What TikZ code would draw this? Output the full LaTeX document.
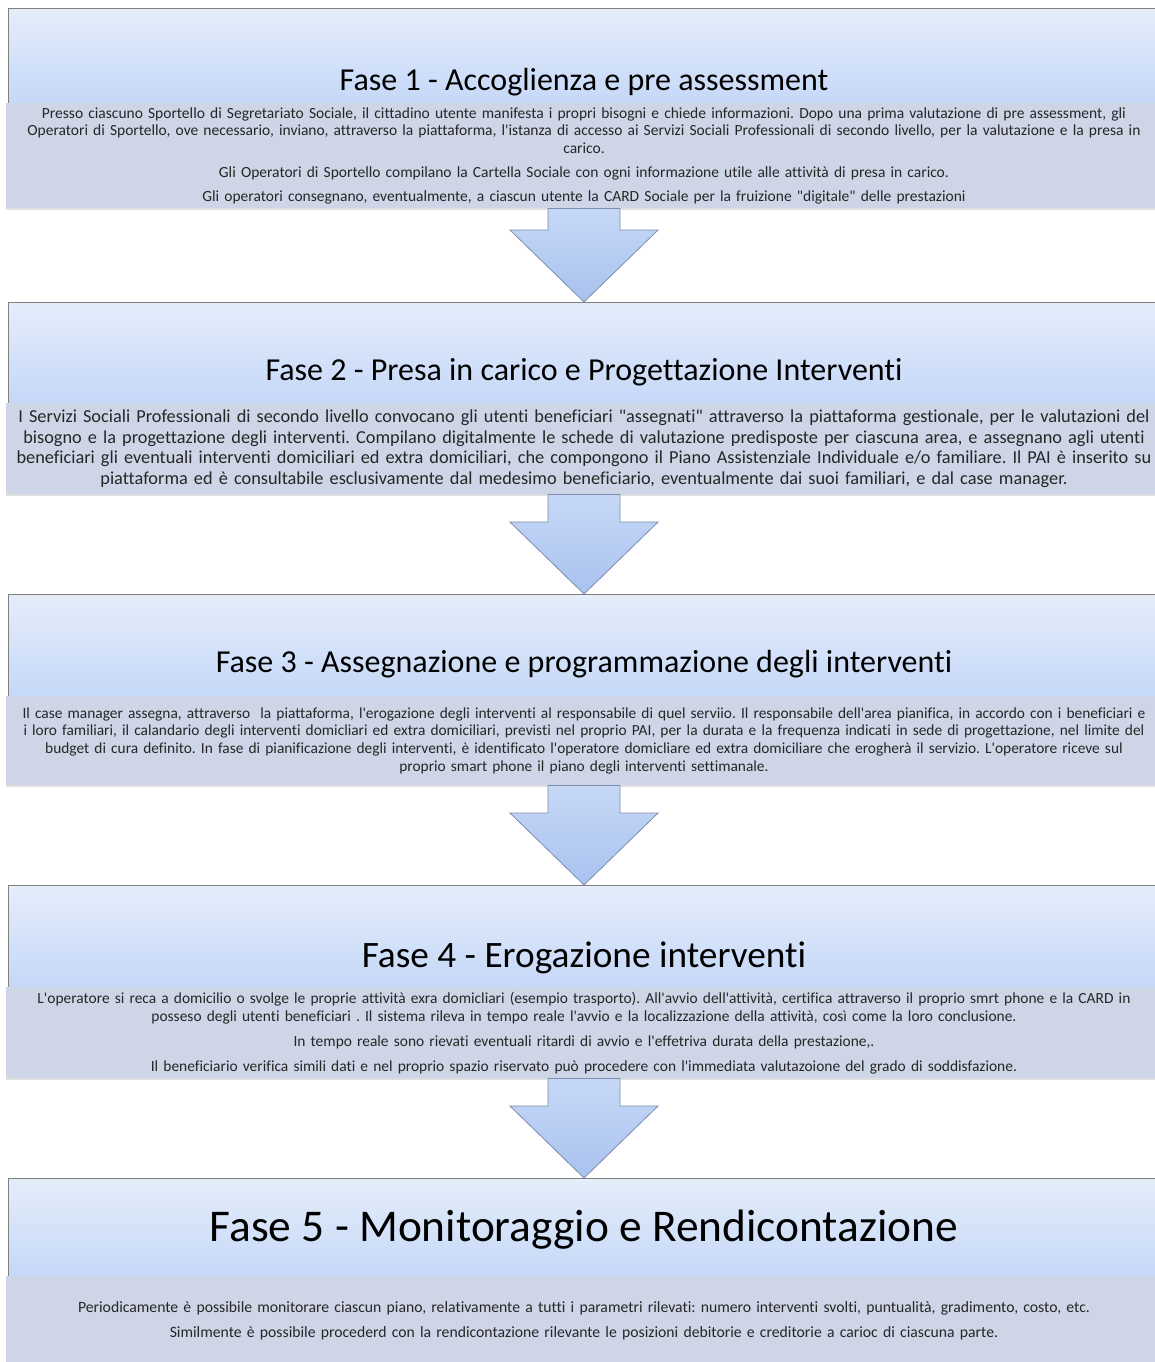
\documentclass[tikz,border=0pt]{standalone}
\usepackage{fontspec}
\setmainfont{Carlito}[Ligatures={TeXOff,NoCommon}]
\usetikzlibrary{calc,shadows}
\definecolor{fasetop}{HTML}{E5EDFA}
\definecolor{fasebot}{HTML}{C5D8F8}
\definecolor{testo}{HTML}{CDD5E6}
\definecolor{bordo}{HTML}{808080}
\definecolor{frecciatop}{HTML}{C6D8F6}
\definecolor{frecciabot}{HTML}{A9C2EF}
\definecolor{frecciabordo}{HTML}{7D8DB0}
\frenchspacing

\begin{document}
\begin{tikzpicture}[x=1pt,y=-1pt,
		fase/.style={draw=bordo, line width=0.9pt, top color=fasetop, bottom color=fasebot, minimum width=1152pt, inner sep=0pt, anchor=north, font=\fontsize{32}{38}\selectfont},
		corpo/.style={fill=testo, minimum width=1156pt, text width=1150pt, align=center, inner sep=0pt, anchor=north, text=black!85, drop shadow={opacity=0.25, shadow xshift=0pt, shadow yshift=-2pt}},
		freccia/.style={draw=frecciabordo, line width=0.8pt, top color=frecciatop, bottom color=frecciabot}]
		\fill[white] (0,0) rectangle (1154,1362);
		\useasboundingbox (0,0) rectangle (1154,1362);

		\draw
		node[fase, text height=82pt, text depth=13pt] at (584,8) (fase1) {Fase 1 - Accoglienza e pre assessment}
		node[corpo, minimum height=105pt, font=\fontsize{15.5}{17.5}\selectfont] at (584,103) (corpo1) {Presso ciascuno Sportello di Segretariato Sociale, il cittadino utente manifesta i propri bisogni e chiede informazioni. Dopo una prima valutazione di pre assessment, gli\\
			Operatori di Sportello, ove necessario, inviano, attraverso la piattaforma, l'istanza di accesso ai Servizi Sociali Professionali di secondo livello, per la valutazione e la presa in\\
			carico.\\[6.5pt]
			Gli Operatori di Sportello compilano la Cartella Sociale con ogni informazione utile alle attività di presa in carico.\\[6.5pt]
			Gli operatori consegnano, eventualmente, a ciascun utente la CARD Sociale per la fruizione "digitale" delle prestazioni}

		node[fase, text height=78pt, text depth=23pt] at (584,302) (fase2) {Fase 2 - Presa in carico e Progettazione Interventi}
		node[corpo, minimum height=91pt, font=\fontsize{18.3}{20.7}\selectfont] at (584,403) (corpo2) {I Servizi Sociali Professionali di secondo livello convocano gli utenti beneficiari "assegnati" attraverso la piattaforma gestionale, per le valutazioni del\\
			bisogno e la progettazione degli interventi. Compilano digitalmente le schede di valutazione predisposte per ciascuna area, e assegnano agli utenti\\
			beneficiari gli eventuali interventi domiciliari ed extra domiciliari, che compongono il Piano Assistenziale Individuale e/o familiare. Il PAI è inserito su\\
			piattaforma ed è consultabile esclusivamente dal medesimo beneficiario, eventualmente dai suoi familiari, e dal case manager.}

		node[fase, text height=78pt, text depth=24pt] at (584,594) (fase3) {Fase 3 - Assegnazione e programmazione degli interventi}
		node[corpo, minimum height=89pt, font=\fontsize{15.4}{17.7}\selectfont] at (584,696) (corpo3) {Il case manager assegna, attraverso\ \ la piattaforma, l'erogazione degli interventi al responsabile di quel serviio. Il responsabile dell'area pianifica, in accordo con i beneficiari e\\
			i loro familiari, il calandario degli interventi domicliari ed extra domiciliari, previsti nel proprio PAI, per la durata e la frequenza indicati in sede di progettazione, nel limite del\\
			budget di cura definito. In fase di pianificazione degli interventi, è identificato l'operatore domicliare ed extra domiciliare che erogherà il servizio. L'operatore riceve sul\\
			proprio smart phone il piano degli interventi settimanale.}

		node[fase, text height=82pt, text depth=20pt, font=\fontsize{37.3}{44}\selectfont] at (584,885) (fase4) {Fase 4 - Erogazione interventi}
		node[corpo, minimum height=91pt, font=\fontsize{15.45}{18}\selectfont] at (584,987) (corpo4) {L'operatore si reca a domicilio o svolge le proprie attività exra domicliari (esempio trasporto). All'avvio dell'attività, certifica attraverso il proprio smrt phone e la CARD in\\
			posseso degli utenti beneficiari . Il sistema rileva in tempo reale l'avvio e la localizzazione della attività, così come la loro conclusione.\\[7pt]
			In tempo reale sono rievati eventuali ritardi di avvio e l'effetriva durata della prestazione,.\\[7pt]
			Il beneficiario verifica simili dati e nel proprio spazio riservato può procedere con l'immediata valutazoione del grado di soddisfazione.}

		node[fase, text height=63pt, text depth=35pt, font=\fontsize{45.4}{52}\selectfont] at (584,1178) (fase5) {Fase 5 - Monitoraggio e Rendicontazione}
		node[corpo, minimum height=90pt, font=\fontsize{15.7}{18}\selectfont] at (584,1276) (corpo5) {Periodicamente è possibile monitorare ciascun piano, relativamente a tutti i parametri rilevati: numero interventi svolti, puntualità, gradimento, costo, etc.\\[7pt]
			Similmente è possibile procederd con la rendicontazione rilevante le posizioni debitorie e creditorie a carioc di ciascuna parte.}
		;

		\foreach \da/\a in {corpo1/fase2, corpo2/fase3, corpo3/fase4, corpo4/fase5}
		\draw[freccia] ($(\da.south)+(-36,0)$) -- ($(\a.north)+(-36,-72)$) -- ($(\a.north)+(-74,-72)$) -- (\a.north)
		-- ($(\a.north)+(74,-72)$) -- ($(\a.north)+(36,-72)$) -- ($(\da.south)+(36,0)$) -- cycle;
	\end{tikzpicture}
\end{document}
